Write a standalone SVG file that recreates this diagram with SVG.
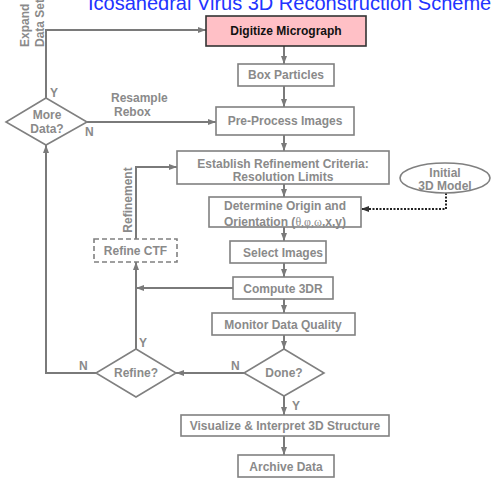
<svg xmlns="http://www.w3.org/2000/svg" width="492" height="480" viewBox="0 0 492 480">
<defs>
<style>
.box{fill:#ffffff;stroke:#808080;stroke-width:1.6}
.t{font-family:"Liberation Sans",Arial,sans-serif;font-weight:bold;font-size:12px;fill:#8a8a8a;text-anchor:middle}
.lbl{font-family:"Liberation Sans",Arial,sans-serif;font-weight:bold;font-size:12px;fill:#8a8a8a}
.c{fill:none;stroke:#7a7a7a;stroke-width:2;marker-end:url(#ah)}
.cn{fill:none;stroke:#7a7a7a;stroke-width:2}
.g{font-family:"Liberation Serif","Times New Roman",serif;font-weight:normal}
</style>
<marker id="ah" viewBox="0 0 8 6" refX="8" refY="3" markerWidth="4" markerHeight="3" orient="auto" markerUnits="strokeWidth">
<path d="M0,0 L8,3 L0,6 z" fill="#7a7a7a"/>
</marker>
<marker id="ahk" viewBox="0 0 8 6" refX="8" refY="3" markerWidth="4" markerHeight="3" orient="auto" markerUnits="strokeWidth">
<path d="M0,0 L8,3 L0,6 z" fill="#333"/>
</marker>
</defs>
<rect width="492" height="480" fill="#ffffff"/>
<text x="88" y="9.5" font-family="'Liberation Sans',Arial,sans-serif" font-size="20" fill="#2233ff">Icosahedral Virus 3D Reconstruction Scheme</text>

<g id="connectors">
<path class="c" d="M284,46 V64"/>
<path class="c" d="M284,86 V107"/>
<path class="c" d="M284,135 V151"/>
<path class="c" d="M284,184 V197"/>
<path class="c" d="M284,227 V241"/>
<path class="c" d="M284,263 V277"/>
<path class="c" d="M284,299 V313"/>
<path class="c" d="M284,335 V349"/>
<path class="c" d="M284,396 V415"/>
<path class="c" d="M284,436 V455"/>
<path class="c" d="M244,373 H176"/>
<path class="c" d="M136,349 V262"/>
<path class="c" d="M233,288 H136"/>
<path class="c" d="M136,239 V167 H177"/>
<path class="c" d="M96,373 H46 V145"/>
<path class="c" d="M46,98 V30 H206"/>
<path class="c" d="M87,122 H216"/>
<path d="M446,193 V209 H361" fill="none" stroke="#222" stroke-width="2" stroke-dasharray="2,1.5" marker-end="url(#ahk)"/>
</g>

<g id="labels">
<text class="lbl" transform="translate(29,47) rotate(-90)">Expand</text>
<text class="lbl" transform="translate(44,47) rotate(-90)">Data Set</text>
<text class="lbl" x="50" y="97">Y</text>
<text class="lbl" x="85" y="136">N</text>
<text class="lbl" x="111" y="102">Resample</text>
<text class="lbl" x="114" y="115.5">Rebox</text>
<text class="t" transform="translate(132,200) rotate(-90)">Refinement</text>
<text class="lbl" x="139" y="347">Y</text>
<text class="lbl" x="79" y="370">N</text>
<text class="lbl" x="231" y="370">N</text>
<text class="lbl" x="292" y="410">Y</text>
</g>

<g id="digitize">
<rect x="206" y="16" width="160" height="30" fill="#ffc0c6" stroke="#333" stroke-width="1.6"/>
<text class="t" x="286" y="35" fill="#111" style="fill:#111">Digitize Micrograph</text>
</g>
<g id="box-particles">
<rect class="box" x="238" y="64" width="96" height="22"/>
<text class="t" x="286" y="79">Box Particles</text>
</g>
<g id="preprocess">
<rect class="box" x="216" y="107" width="138" height="28"/>
<text class="t" x="285" y="125">Pre-Process Images</text>
</g>
<g id="establish">
<rect class="box" x="177" y="151" width="212" height="33"/>
<text class="t" x="283" y="167.5">Establish Refinement Criteria:</text>
<text class="t" x="283" y="181">Resolution Limits</text>
</g>
<g id="determine">
<rect class="box" x="209" y="197" width="152" height="30"/>
<text class="t" x="285" y="210">Determine Origin and</text>
<text class="t" x="285" y="225.5">Orientation (<tspan class="g">θ,φ,ω</tspan>,x,y)</text>
</g>
<g id="select">
<rect class="box" x="230" y="241" width="96" height="22"/>
<text class="t" x="283" y="257">Select Images</text>
</g>
<g id="compute">
<rect class="box" x="233" y="277" width="100" height="22"/>
<text class="t" x="283" y="292.5">Compute 3DR</text>
</g>
<g id="monitor">
<rect class="box" x="212" y="313" width="143" height="22"/>
<text class="t" x="283" y="329">Monitor Data Quality</text>
</g>
<g id="done">
<polygon class="box" points="284,349 324,373 284,396 244,373"/>
<text class="t" x="284" y="377">Done?</text>
</g>
<g id="visualize">
<rect class="box" x="181" y="415" width="208" height="21"/>
<text class="t" x="285" y="430">Visualize &amp; Interpret 3D Structure</text>
</g>
<g id="archive">
<rect class="box" x="238" y="455" width="96" height="22"/>
<text class="t" x="286" y="471">Archive Data</text>
</g>
<g id="refine">
<polygon class="box" points="136,349 176,373 136,397 96,373"/>
<text class="t" x="136" y="377">Refine?</text>
</g>
<g id="refine-ctf">
<rect x="94" y="239" width="83" height="23" fill="#fff" stroke="#808080" stroke-width="1.6" stroke-dasharray="5,3"/>
<text class="t" x="135.5" y="255">Refine CTF</text>
</g>
<g id="more-data">
<polygon class="box" points="46,98 87,122 46,145 6,122"/>
<text class="t" x="47" y="119">More</text>
<text class="t" x="47" y="132.5">Data?</text>
</g>
<g id="initial-model">
<ellipse class="box" cx="445" cy="178" rx="45" ry="15"/>
<text class="t" x="445" y="177">Initial</text>
<text class="t" x="445" y="190">3D Model</text>
</g>
</svg>
